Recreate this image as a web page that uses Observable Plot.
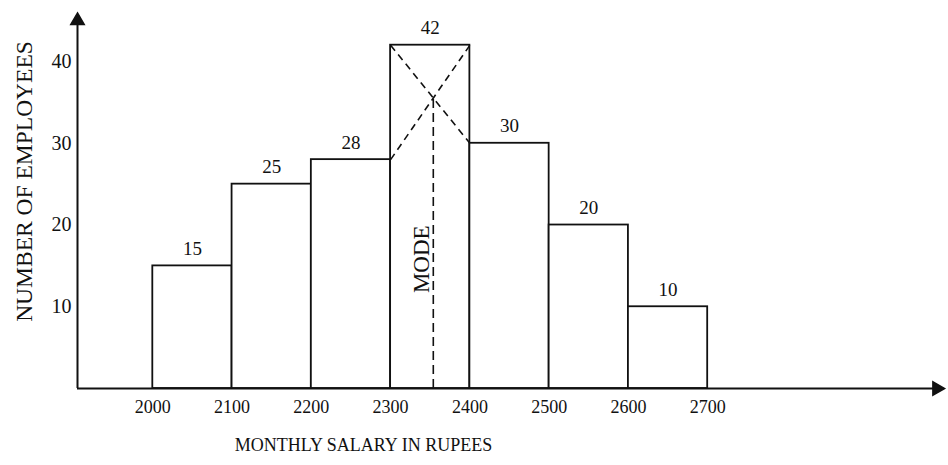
<!DOCTYPE html>
<html>
<head>
<meta charset="utf-8">
<script src="https://cdn.jsdelivr.net/npm/d3@7"></script>
<script src="https://cdn.jsdelivr.net/npm/@observablehq/plot@0.6"></script>
<style>
  html, body { margin: 0; padding: 0; background: #fff; }
  #chart svg { display: block; }
</style>
</head>
<body>
<div id="chart"></div>
<script>
// ---- data ----
const binStarts = [2000, 2100, 2200, 2300, 2400, 2500, 2600];
const binWidth = 100;
const counts = [15, 25, 28, 42, 30, 20, 10];
const xTicks = [2000, 2100, 2200, 2300, 2400, 2500, 2600, 2700];
const yTicks = [10, 20, 30, 40];
const xTitle = "MONTHLY SALARY IN RUPEES";
const yTitle = "NUMBER OF EMPLOYEES";
const modeLabel = "MODE";

// ---- derived ----
const bins = binStarts.map((s, i) => ({start: s, end: s + binWidth, count: counts[i]}));
const m = counts.indexOf(d3.max(counts));
const L = binStarts[m], f0 = counts[m - 1], f1 = counts[m], f2 = counts[m + 1];
const mode = L + binWidth * (f1 - f0) / ((f1 - f0) + (f1 - f2));
const modeY = f0 + (f1 - f0) * (mode - L) / binWidth;
const diagonals = [
  {x1: L, y1: f0, x2: L + binWidth, y2: f1},
  {x1: L, y1: f1, x2: L + binWidth, y2: f2}
];

const xMin = 1905, xMax = 3000, yMax = 46;
const ink = "#111";

const chart = Plot.plot({
  width: 948,
  height: 465,
  marginLeft: 77,
  marginRight: 3,
  marginTop: 12,
  marginBottom: 77,
  x: {domain: [xMin, xMax]},
  y: {domain: [0, yMax]},
  style: {fontFamily: "'Liberation Serif', 'DejaVu Serif', serif", color: ink, background: "#fff"},
  marks: [
    Plot.rectY(bins, {x1: "start", x2: "end", y: "count", fill: "#fff", stroke: ink, strokeWidth: 1.8, inset: 0}),
    Plot.text(bins, {x: d => (d.start + d.end) / 2, y: "count", text: d => String(d.count), dy: -17, fontSize: 19, fill: ink}),
    Plot.link(diagonals, {x1: "x1", y1: "y1", x2: "x2", y2: "y2", stroke: ink, strokeWidth: 1.6, strokeDasharray: "7,5"}),
    Plot.ruleX([mode], {y1: 0, y2: modeY, stroke: ink, strokeWidth: 1.6, strokeDasharray: "9,5"}),
    Plot.text([modeLabel], {x: mode, y: modeY / 2, text: d => d, rotate: -90, dx: -12, dy: 16, fontSize: 23, fill: ink}),
    // axes lines with arrow heads
    Plot.ruleX([xMin], {y1: 0, y2: yMax - 1, stroke: ink, strokeWidth: 2}),
    Plot.ruleY([0], {x1: xMin, x2: xMax - 11, stroke: ink, strokeWidth: 2}),
    Plot.dot([0], {x: xMin, y: yMax - 1, symbol: "triangle", r: 5, fill: ink, stroke: ink}),
    Plot.dot([0], {x: xMax - 11, y: 0, symbol: "triangle", r: 5, rotate: 90, fill: ink, stroke: ink}),
    Plot.axisX(xTicks, {tickSize: 0, tickPadding: 12, fontSize: 18, tickFormat: d => String(d), label: null}),
    Plot.axisY(yTicks, {tickSize: 0, tickPadding: 6, fontSize: 20, label: null}),
    Plot.text([xTitle], {frameAnchor: "bottom-left", textAnchor: "middle", text: d => d, dx: 286, dy: 62, fontSize: 18, fill: ink}),
    Plot.text([yTitle], {frameAnchor: "left", textAnchor: "middle", text: d => d, rotate: -90, dx: -53, dy: -19, fontSize: 23.5, fill: ink})
  ]
});
document.getElementById("chart").appendChild(chart);
</script>
</body>
</html>
